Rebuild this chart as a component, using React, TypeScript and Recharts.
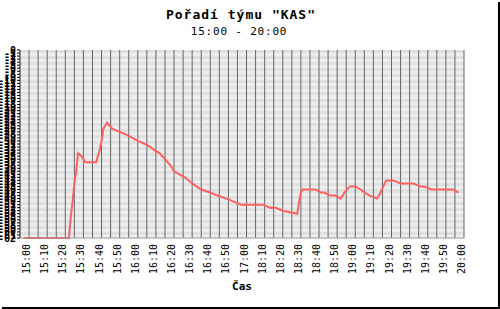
import React from "react";
import { CartesianGrid, Label, Line, LineChart, XAxis, YAxis } from "recharts";

// sample times (break 17:00-18:00 is squeezed out of the axis)
const times = [
  "14:57", "15:22", "15:23", "15:24", "15:25", "15:26", "15:27", "15:29",
  "15:31", "15:33", "15:37", "15:38", "15:39", "15:40", "15:41", "15:43",
  "15:46", "15:50", "15:54", "15:57", "16:00", "16:04", "16:07", "16:09",
  "16:12", "16:15", "16:18", "16:20", "16:23", "16:26", "16:30", "16:35",
  "16:40", "16:44", "16:49", "16:53", "16:57", "18:02", "18:06", "18:09",
  "18:13", "18:16", "18:20", "18:28", "18:29", "18:30", "18:31", "18:35",
  "18:38", "18:41", "18:43", "18:46", "18:49", "18:52", "18:54", "18:57",
  "19:00", "19:03", "19:05", "19:08", "19:12", "19:14", "19:17", "19:21",
  "19:25", "19:28", "19:32", "19:36", "19:38", "19:42", "19:46", "19:49",
  "19:54", "19:57",
];

const ranks = [
  62, 62, 55, 50, 44, 40, 34, 35,
  37, 37, 37, 35, 33, 30, 26, 24,
  26, 27, 28, 29, 30, 31, 32, 33,
  34, 36, 38, 40, 41, 42, 44, 46,
  47, 48, 49, 50, 51, 51, 51, 51,
  52, 52, 53, 54, 50, 47, 46, 46,
  46, 47, 47, 48, 48, 49, 47, 45,
  45, 46, 47, 48, 49, 47, 43, 43,
  44, 44, 44, 45, 45, 46, 46, 46,
  46, 47,
];

const timeLabels = [
  "15:00", "15:10", "15:20", "15:30", "15:40", "15:50", "16:00", "16:10",
  "16:20", "16:30", "16:40", "16:50", "17:00", "18:10", "18:20", "18:30",
  "18:40", "18:50", "19:00", "19:10", "19:20", "19:30", "19:40", "19:50",
  "20:00",
];

const TEAMS = 62;
const FONT = "'DejaVu Sans Mono', monospace";

function toPos(t: string) {
  const [h, m] = t.split(":").map(Number);
  const min = h * 60 + m - 15 * 60;
  return min > 150 ? min - 60 : min;
}

const data = times.map((t, i) => ({ time: t, pos: toPos(t), rank: ranks[i] }));
const labelByPos = new Map(timeLabels.map((l) => [toPos(l), l]));

const gridTicks: number[] = [];
for (let p = -5; p <= 240; p += 5) gridTicks.push(p);

const rankTicks: number[] = [];
for (let r = 0; r <= TEAMS; r++) rankTicks.push(-r);

function TimeTick({ x, y, payload }: any) {
  const label = labelByPos.get(payload.value);
  if (!label) return <g />;
  const tx = x + 1;
  return (
    <text
      x={tx}
      y={y}
      transform={`rotate(-90 ${tx} ${y})`}
      textAnchor="end"
      fontSize={10}
      fontFamily={FONT}
      fill="#000"
    >
      {label}
    </text>
  );
}

export default function App() {
  return (
    <div
      style={{
        position: "fixed",
        left: 0,
        top: 0,
        width: 500,
        height: 309,
        background: "#fff",
      }}
    >
      <div
        style={{
          position: "absolute",
          top: 8,
          left: 0,
          width: 482,
          textAlign: "center",
          fontFamily: FONT,
          fontWeight: "bold",
          fontSize: 13,
          letterSpacing: 1,
          lineHeight: "14px",
        }}
      >
        Pořadí týmu "KAS"
      </div>
      <div
        style={{
          position: "absolute",
          top: 26,
          left: 0,
          width: 478,
          textAlign: "center",
          fontFamily: FONT,
          fontSize: 11,
          letterSpacing: 0.8,
          lineHeight: "12px",
        }}
      >
        15:00 - 20:00
      </div>
      <div style={{ position: "absolute" }}>
        <LineChart
          width={500}
          height={309}
          data={data}
          margin={{ top: 50, right: 36, left: 0, bottom: 0 }}
        >
          <CartesianGrid
            vertical={false}
            stroke="none"
            horizontalFill={["#e0e0e0", "#eeeeee"]}
          />
          <CartesianGrid horizontal={false} stroke="#666" />
          <XAxis
            type="number"
            dataKey="pos"
            domain={[-5, 240]}
            ticks={gridTicks}
            interval={0}
            height={71}
            tickSize={0}
            tickMargin={6}
            axisLine={{ stroke: "#999" }}
            tick={<TimeTick />}
          >
            <Label
              value="Čas"
              position="insideBottom"
              offset={19}
              style={{ fontFamily: FONT, fontWeight: "bold", fontSize: 11, fill: "#000" }}
            />
          </XAxis>
          <YAxis
            type="number"
            domain={[-TEAMS, 0]}
            ticks={rankTicks}
            interval={0}
            width={20}
            tickSize={3}
            tickMargin={1}
            axisLine={{ stroke: "#666" }}
            tickLine={{ stroke: "#000" }}
            tick={{ fontSize: 10, fill: "#000", fontFamily: FONT, fontWeight: "bold" }}
          />
          <Line
            type="linear"
            dataKey={(d: any) => -d.rank}
            stroke="#ff6060"
            strokeWidth={2}
            dot={false}
            isAnimationActive={false}
          />
        </LineChart>
      </div>
      <div style={{ position: "absolute", left: 498, top: 2, width: 2, height: 307, background: "#000" }} />
      <div style={{ position: "absolute", left: 2, top: 307, width: 498, height: 2, background: "#000" }} />
    </div>
  );
}
